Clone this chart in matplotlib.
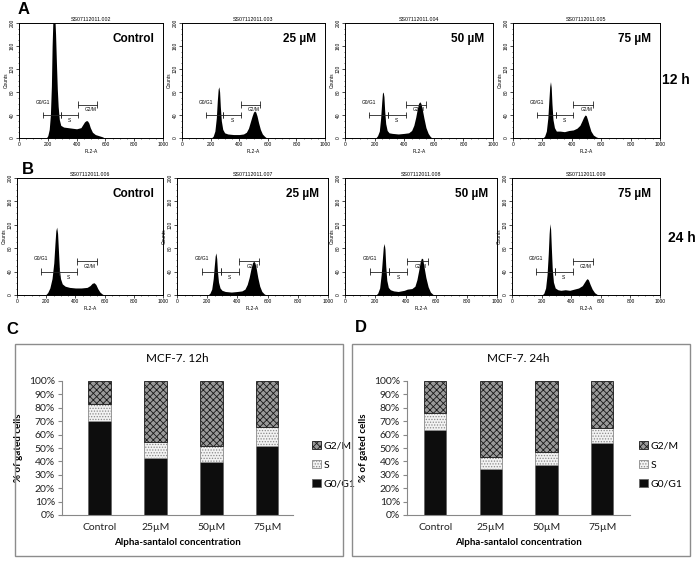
import matplotlib
matplotlib.use('Agg')
import matplotlib.pyplot as plt
from matplotlib.patches import Rectangle
from matplotlib.ticker import MultipleLocator

W, H = 697, 565

# flow cytometry histograms (FL2-A channel, counts)
ctrl12_x = [190, 200, 210, 218, 225, 230, 236, 242, 248, 254, 260, 266, 272, 280, 290, 310, 340, 370, 400, 430, 445, 455, 465, 475, 485, 495, 510, 530, 555, 580, 595]
ctrl12_y = [0, 4, 15, 40, 90, 160, 210, 220, 215, 180, 130, 85, 55, 32, 22, 19, 18, 17, 16, 18, 24, 28, 30, 30, 26, 18, 10, 6, 4, 2, 0]
c25_12_x = [205, 218, 230, 240, 247, 253, 258, 263, 268, 275, 285, 298, 320, 360, 400, 430, 450, 465, 478, 490, 500, 508, 516, 525, 535, 548, 562, 577, 592]
c25_12_y = [0, 3, 12, 35, 65, 85, 89, 80, 55, 30, 15, 9, 7, 6, 6, 7, 10, 17, 28, 38, 45, 47, 45, 38, 27, 15, 7, 3, 0]
c50_12_x = [208, 220, 232, 241, 248, 253, 258, 263, 268, 275, 285, 298, 320, 360, 400, 430, 450, 465, 478, 488, 497, 505, 513, 522, 533, 547, 562, 575, 587]
c50_12_y = [0, 4, 12, 35, 62, 78, 80, 72, 48, 25, 13, 9, 8, 7, 8, 9, 13, 22, 36, 50, 60, 63, 60, 50, 35, 18, 8, 3, 0]
c75_12_x = [203, 215, 227, 237, 244, 250, 255, 260, 265, 272, 282, 295, 320, 350, 380, 410, 435, 455, 468, 480, 490, 498, 507, 518, 530, 547, 565, 585]
c75_12_y = [0, 3, 12, 35, 65, 90, 98, 88, 60, 32, 18, 12, 12, 11, 13, 14, 17, 22, 29, 36, 40, 39, 32, 22, 12, 5, 2, 0]

ctrl24_x = [195, 210, 225, 240, 252, 260, 266, 272, 278, 284, 290, 298, 310, 330, 360, 400, 440, 480, 500, 515, 528, 540, 553, 568, 582, 595]
ctrl24_y = [0, 4, 12, 28, 55, 88, 110, 116, 105, 75, 45, 28, 19, 15, 13, 12, 12, 13, 16, 20, 21, 18, 11, 5, 2, 0]
c25_24_x = [205, 218, 230, 240, 247, 253, 258, 263, 268, 275, 285, 298, 320, 360, 400, 430, 450, 465, 478, 490, 500, 508, 516, 525, 535, 548, 562, 577, 590]
c25_24_y = [0, 3, 10, 28, 50, 67, 72, 62, 40, 22, 12, 8, 6, 5, 6, 7, 10, 18, 30, 45, 55, 58, 55, 45, 30, 15, 6, 2, 0]
c50_24_x = [203, 215, 228, 238, 246, 252, 258, 263, 268, 275, 285, 298, 320, 350, 390, 410, 440, 460, 473, 485, 495, 503, 511, 520, 532, 547, 562, 583]
c50_24_y = [0, 3, 12, 35, 62, 82, 88, 78, 50, 25, 13, 9, 7, 6, 8, 10, 11, 15, 26, 42, 57, 63, 62, 48, 30, 14, 5, 0]
c75_24_x = [203, 215, 227, 237, 245, 251, 256, 261, 266, 272, 280, 292, 310, 330, 360, 390, 420, 450, 475, 490, 500, 508, 516, 528, 542, 558, 575, 592]
c75_24_y = [0, 3, 12, 35, 70, 105, 122, 112, 80, 45, 22, 12, 9, 8, 9, 8, 10, 12, 16, 22, 26, 28, 26, 18, 10, 4, 1, 0]

sample_ids_12h = ['SS07112011.002', 'SS07112011.003', 'SS07112011.004', 'SS07112011.005']
sample_ids_24h = ['SS07112011.006', 'SS07112011.007', 'SS07112011.008', 'SS07112011.009']
dose_labels = ['Control', '25 µM', '50 µM', '75 µM']

# gates: (start, end, height)
gate_g0g1 = (165, 290, 40)
gate_s = (290, 410, 40)
gate_g2m = (410, 545, 58)

# bar charts, % of gated cells
conc = ['Control', '25µM', '50µM', '75µM']
g0g1_12h = [70.1, 42.8, 39.3, 51.2]
s_12h = [12.5, 11.9, 11.9, 14.2]
g2m_12h = [17.4, 45.3, 48.8, 34.6]
g0g1_24h = [63.4, 34.3, 37.6, 53.5]
s_24h = [13.0, 8.7, 9.4, 11.7]
g2m_24h = [23.6, 57.0, 53.0, 34.8]
pct_ticks = list(range(0, 101, 10))

plt.rcParams['hatch.linewidth'] = 0.6
fig = plt.figure(figsize=(W / 100, H / 100), dpi=100)
fig.patch.set_facecolor('white')


def px_axes(l, t, r, b):
    return fig.add_axes([l / W, 1 - b / H, (r - l) / W, (b - t) / H])


HF = 'Liberation Sans'


def flow_panel(ax, x, y, title, label):
    ax.fill_between(x, y, color='black', lw=0)
    ax.set_xlim(0, 1000)
    ax.set_ylim(0, 200)
    ax.xaxis.set_major_locator(MultipleLocator(200))
    ax.xaxis.set_minor_locator(MultipleLocator(50))
    ax.yaxis.set_major_locator(MultipleLocator(40))
    ax.yaxis.set_minor_locator(MultipleLocator(10))
    ax.tick_params(which='major', length=2, width=0.5, labelsize=3.5, pad=1)
    ax.tick_params(which='minor', length=1, width=0.4)
    for lab in ax.get_yticklabels():
        lab.set_rotation(90)
        lab.set_va('center')
        lab.set_family(HF)
    for lab in ax.get_xticklabels():
        lab.set_family(HF)
    for sp in ax.spines.values():
        sp.set_linewidth(0.7)
    ax.set_title(title, fontsize=3.8, pad=1.5, family=HF)
    ax.set_xlabel('FL2-A', fontsize=3.5, labelpad=1, family=HF)
    ax.set_ylabel('Counts', fontsize=3.5, labelpad=1, family=HF)
    for a, b, h in (gate_g0g1, gate_s, gate_g2m):
        ax.plot([a, b], [h, h], color='#222', lw=0.6)
        ax.vlines([a, b], h - 6, h + 6, color='#222', lw=0.6)
    ax.text(165, 60, 'G0/G1', fontsize=3.5, ha='center', family=HF)
    ax.text(350, 27, 'S', fontsize=3.5, ha='center', family=HF)
    ax.text(500, 47, 'G2/M', fontsize=3.5, ha='center', family=HF)
    ax.text(0.94, 0.86, label, transform=ax.transAxes, ha='right', va='center',
            fontsize=8.5, fontweight='bold', family=HF)


row12 = [(ctrl12_x, ctrl12_y), (c25_12_x, c25_12_y), (c50_12_x, c50_12_y), (c75_12_x, c75_12_y)]
row24 = [(ctrl24_x, ctrl24_y), (c25_24_x, c25_24_y), (c50_24_x, c50_24_y), (c75_24_x, c75_24_y)]

a_l = [19, 182, 345, 513]
a_r = [163, 325, 493, 660]
b_l = [17, 177, 345, 512]
b_r = [163, 328, 497, 660]

for i in range(4):
    ax = px_axes(a_l[i], 23, a_r[i], 138)
    flow_panel(ax, row12[i][0], row12[i][1], sample_ids_12h[i], dose_labels[i])
    ax = px_axes(b_l[i], 178, b_r[i], 295)
    flow_panel(ax, row24[i][0], row24[i][1], sample_ids_24h[i], dose_labels[i])

fig.text(24 / W, 1 - 10 / H, 'A', fontsize=12, fontweight='bold', ha='center', va='center', family=HF)
fig.text(28 / W, 1 - 169 / H, 'B', fontsize=12, fontweight='bold', ha='center', va='center', family=HF)
fig.text(12 / W, 1 - 329 / H, 'C', fontsize=12, fontweight='bold', ha='center', va='center', family=HF)
fig.text(361 / W, 1 - 327 / H, 'D', fontsize=12, fontweight='bold', ha='center', va='center', family=HF)
fig.text(676 / W, 1 - 80 / H, '12 h', fontsize=10, fontweight='bold', ha='center', va='center', family=HF)
fig.text(682 / W, 1 - 238 / H, '24 h', fontsize=10, fontweight='bold', ha='center', va='center', family=HF)

# stacked bars
BF = 'Lato'


def bar_panel(box, axrect, xlim, g0, s, g2, title, leg_x):
    x0, y0, x1, y1 = box
    fig.add_artist(Rectangle((x0 / W, 1 - y1 / H), (x1 - x0) / W, (y1 - y0) / H,
                             transform=fig.transFigure, fill=False, edgecolor='#8c8c8c', lw=1))
    ax = px_axes(*axrect)
    pos = list(range(len(conc)))
    b1 = ax.bar(pos, g0, width=0.4, color='#0d0d0d', edgecolor='#666', lw=0.6)
    b2 = ax.bar(pos, s, width=0.4, bottom=g0, color='#f2f2f2', edgecolor='#8a8a8a',
                hatch='......', lw=0.6)
    bot = [a + b for a, b in zip(g0, s)]
    b3 = ax.bar(pos, g2, width=0.4, bottom=bot, color='#9a9a9a', edgecolor='#1a1a1a',
                hatch='xxxxx', lw=0.6)
    ax.set_xlim(*xlim)
    ax.set_ylim(0, 100)
    ax.set_yticks(pct_ticks)
    ax.set_yticklabels([f'{v}%' for v in pct_ticks], family=BF)
    ax.set_xticks(pos)
    ax.set_xticklabels(conc, family=BF)
    ax.tick_params(axis='y', length=3, color='#888', labelsize=7.5, pad=2, labelcolor='#222')
    ax.tick_params(axis='x', length=0, labelsize=7.5, pad=6, labelcolor='#222')
    for k in ('top', 'right'):
        ax.spines[k].set_visible(False)
    for k in ('left', 'bottom'):
        ax.spines[k].set_color('#888')
        ax.spines[k].set_linewidth(0.8)
    ax.set_title(title, fontsize=8.5, family=BF, pad=14)
    ax.set_ylabel('% of gated cells', fontsize=7, fontweight='bold', family=BF, labelpad=4)
    ax.set_xlabel('Alpha-santalol concentration', fontsize=7, fontweight='bold', family=BF, labelpad=4)
    ax.legend([b3, b2, b1], ['G2/M', 'S', 'G0/G1'], loc='center left',
              bbox_to_anchor=(leg_x / W, 1 - 465 / H), bbox_transform=fig.transFigure,
              frameon=False, prop={'family': BF, 'size': 7.5}, handlelength=0.8,
              handleheight=0.8, handletextpad=0.3, labelspacing=0.9, borderpad=0)


bar_panel((15, 344, 343, 556), (62, 381, 293, 515), (-0.67, 3.46),
          g0g1_12h, s_12h, g2m_12h, 'MCF-7. 12h', 307)
bar_panel((352, 344, 690, 556), (407, 381, 630, 515), (-0.51, 3.5),
          g0g1_24h, s_24h, g2m_24h, 'MCF-7. 24h', 634)

fig.savefig('out.png', dpi=100)
